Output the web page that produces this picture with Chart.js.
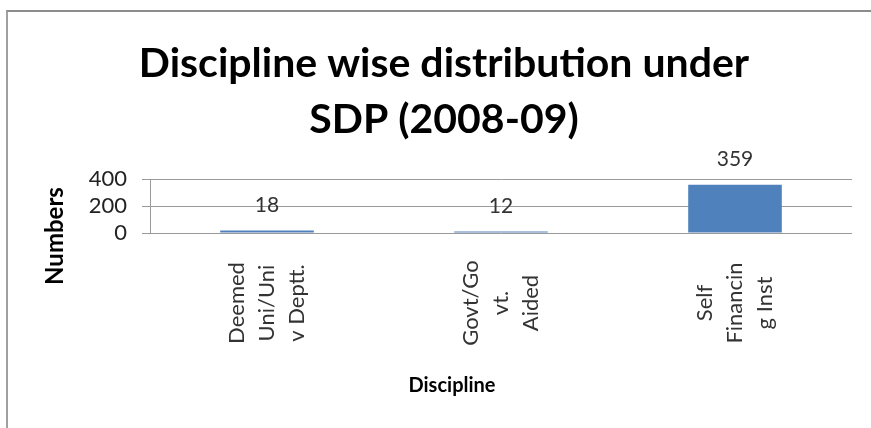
<!DOCTYPE html>
<html><head><meta charset="utf-8">
<script src="https://cdn.jsdelivr.net/npm/chart.js@4"></script>
<style>
html,body{margin:0;padding:0;background:#fff;}
#wrap{position:relative;width:871px;height:428px;overflow:hidden;}
#frame{position:absolute;left:6px;top:10px;right:-10px;bottom:-10px;border-top:2px solid #8c8c8c;border-left:2px solid #a0a0a0;pointer-events:none;}
canvas{position:absolute;left:0;top:0;}
</style></head><body>
<div id="wrap"><canvas id="c" width="871" height="428"></canvas><div id="frame"></div></div>
<script>
const titleLines = ['Discipline wise distribution under', 'SDP (2008-09)'];
const categories = [['Deemed','Uni/Uni','v Deptt.'], ['Govt/Go','vt.','Aided'], ['Self','Financin','g Inst']];
const values = [18, 12, 359];
const yMin = 0, yMax = 400, yStep = 200;
const yTitle = 'Numbers';
const xTitle = 'Discipline';

const FONT = 'Lato, Carlito, Calibri, "Open Sans", sans-serif';

const decor = {
  id: 'decor',
  afterDatasetsDraw(chart) {
    const ctx = chart.ctx;
    ctx.save();
    // value labels
    ctx.font = '21px ' + FONT;
    ctx.fillStyle = '#333';
    ctx.textAlign = 'center';
    ctx.textBaseline = 'middle';
    const meta = chart.getDatasetMeta(0);
    meta.data.forEach((bar, i) => {
      ctx.fillText(String(values[i]), bar.x, bar.y - 25);
    });
    // category labels, rotated, centred
    const xs = chart.scales.x;
    ctx.font = '22px ' + FONT;
    categories.forEach((lines, i) => {
      const x = xs.getPixelForValue(i);
      ctx.save();
      ctx.translate(x, 303);
      ctx.rotate(-Math.PI / 2);
      lines.forEach((ln, j) => {
        ctx.fillText(ln, 0, (j - (lines.length - 1) / 2) * 30);
      });
      ctx.restore();
    });
    // axis titles
    ctx.fillStyle = '#000';
    ctx.font = 'bold 20px ' + FONT;
    ctx.fillText(xTitle, 452, 386);
    ctx.font = 'bold 24px ' + FONT;
    ctx.save();
    ctx.translate(55, 236);
    ctx.rotate(-Math.PI / 2);
    ctx.fillText(yTitle, 0, 0);
    ctx.restore();
    ctx.restore();
  }
};

new Chart(document.getElementById('c'), {
  type: 'bar',
  data: {
    labels: categories,
    datasets: [{
      data: values,
      backgroundColor: '#4F81BD',
      borderWidth: 0,
      barPercentage: 0.4,
      categoryPercentage: 1.0
    }]
  },
  options: {
    responsive: false,
    animation: false,
    events: [],
    layout: { padding: { left: 36, right: 19, top: 0, bottom: 0 } },
    plugins: {
      legend: { display: false },
      tooltip: { enabled: false },
      title: {
        display: true,
        text: titleLines,
        color: '#000',
        font: { family: FONT, size: 41, weight: 'bold', lineHeight: 1.38 },
        padding: { top: 35, bottom: 31 }
      }
    },
    scales: {
      x: {
        grid: { display: false },
        border: { display: false },
        ticks: { display: false },
        afterFit(s) { s.height = 195; }
      },
      y: {
        min: yMin, max: yMax,
        ticks: { stepSize: yStep, autoSkip: false, color: '#222', font: { family: FONT, size: 22 }, padding: 15 },
        grid: { color: '#9a9a9a', lineWidth: 1, tickLength: 8 },
        border: { display: true, color: '#9a9a9a' },
        afterFit(s) { s.width = 114; }
      }
    }
  },
  plugins: [decor]
});
</script>
</body></html>
